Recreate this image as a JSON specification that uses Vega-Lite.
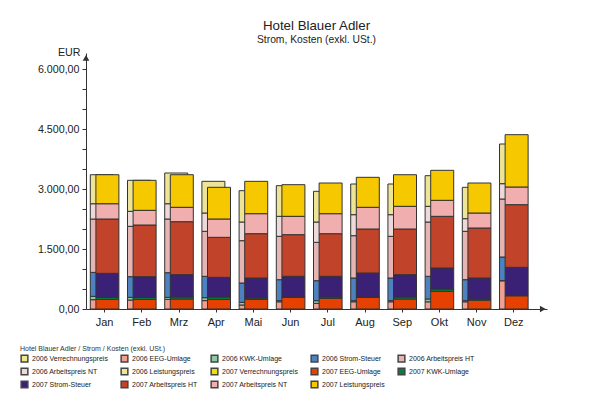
{
  "$schema": "https://vega.github.io/schema/vega-lite/v6.json",
  "autosize": {"type": "none"},
  "width": 461,
  "height": 256,
  "padding": {"left": 86, "top": 53, "right": 59, "bottom": 94},
  "background": "white",
  "title": {
    "text": "Hotel Blauer Adler",
    "subtitle": "Strom, Kosten (exkl. USt.)",
    "anchor": "middle",
    "fontSize": 13.3,
    "fontWeight": "normal",
    "color": "#222",
    "subtitleFontSize": 10.3,
    "subtitleColor": "#222",
    "subtitlePadding": 2,
    "offset": 1
  },
  "datasets": {
    "kosten": [
      {"m":"Jan","j":2006,"s":"2006 Verrechnungspreis","o":1,"w":0},
      {"m":"Jan","j":2006,"s":"2006 EEG-Umlage","o":2,"w":233},
      {"m":"Jan","j":2006,"s":"2006 KWK-Umlage","o":3,"w":83},
      {"m":"Jan","j":2006,"s":"2006 Strom-Steuer","o":4,"w":600},
      {"m":"Jan","j":2006,"s":"2006 Arbeitspreis HT","o":5,"w":1333},
      {"m":"Jan","j":2006,"s":"2006 Arbeitspreis NT","o":6,"w":383},
      {"m":"Jan","j":2006,"s":"2006 Leistungspreis","o":7,"w":725},
      {"m":"Feb","j":2006,"s":"2006 Verrechnungspreis","o":1,"w":0},
      {"m":"Feb","j":2006,"s":"2006 EEG-Umlage","o":2,"w":225},
      {"m":"Feb","j":2006,"s":"2006 KWK-Umlage","o":3,"w":66},
      {"m":"Feb","j":2006,"s":"2006 Strom-Steuer","o":4,"w":517},
      {"m":"Feb","j":2006,"s":"2006 Arbeitspreis HT","o":5,"w":1259},
      {"m":"Feb","j":2006,"s":"2006 Arbeitspreis NT","o":6,"w":375},
      {"m":"Feb","j":2006,"s":"2006 Leistungspreis","o":7,"w":775},
      {"m":"Mrz","j":2006,"s":"2006 Verrechnungspreis","o":1,"w":0},
      {"m":"Mrz","j":2006,"s":"2006 EEG-Umlage","o":2,"w":241},
      {"m":"Mrz","j":2006,"s":"2006 KWK-Umlage","o":3,"w":50},
      {"m":"Mrz","j":2006,"s":"2006 Strom-Steuer","o":4,"w":617},
      {"m":"Mrz","j":2006,"s":"2006 Arbeitspreis HT","o":5,"w":1342},
      {"m":"Mrz","j":2006,"s":"2006 Arbeitspreis NT","o":6,"w":382},
      {"m":"Mrz","j":2006,"s":"2006 Leistungspreis","o":7,"w":768},
      {"m":"Apr","j":2006,"s":"2006 Verrechnungspreis","o":1,"w":0},
      {"m":"Apr","j":2006,"s":"2006 EEG-Umlage","o":2,"w":209},
      {"m":"Apr","j":2006,"s":"2006 KWK-Umlage","o":3,"w":74},
      {"m":"Apr","j":2006,"s":"2006 Strom-Steuer","o":4,"w":534},
      {"m":"Apr","j":2006,"s":"2006 Arbeitspreis HT","o":5,"w":1125},
      {"m":"Apr","j":2006,"s":"2006 Arbeitspreis NT","o":6,"w":458},
      {"m":"Apr","j":2006,"s":"2006 Leistungspreis","o":7,"w":792},
      {"m":"Mai","j":2006,"s":"2006 Verrechnungspreis","o":1,"w":0},
      {"m":"Mai","j":2006,"s":"2006 EEG-Umlage","o":2,"w":100},
      {"m":"Mai","j":2006,"s":"2006 KWK-Umlage","o":3,"w":65},
      {"m":"Mai","j":2006,"s":"2006 Strom-Steuer","o":4,"w":485},
      {"m":"Mai","j":2006,"s":"2006 Arbeitspreis HT","o":5,"w":1058},
      {"m":"Mai","j":2006,"s":"2006 Arbeitspreis NT","o":6,"w":467},
      {"m":"Mai","j":2006,"s":"2006 Leistungspreis","o":7,"w":783},
      {"m":"Jun","j":2006,"s":"2006 Verrechnungspreis","o":1,"w":0},
      {"m":"Jun","j":2006,"s":"2006 EEG-Umlage","o":2,"w":180},
      {"m":"Jun","j":2006,"s":"2006 KWK-Umlage","o":3,"w":28},
      {"m":"Jun","j":2006,"s":"2006 Strom-Steuer","o":4,"w":525},
      {"m":"Jun","j":2006,"s":"2006 Arbeitspreis HT","o":5,"w":1084},
      {"m":"Jun","j":2006,"s":"2006 Arbeitspreis NT","o":6,"w":500},
      {"m":"Jun","j":2006,"s":"2006 Leistungspreis","o":7,"w":766},
      {"m":"Jul","j":2006,"s":"2006 Verrechnungspreis","o":1,"w":0},
      {"m":"Jul","j":2006,"s":"2006 EEG-Umlage","o":2,"w":140},
      {"m":"Jul","j":2006,"s":"2006 KWK-Umlage","o":3,"w":68},
      {"m":"Jul","j":2006,"s":"2006 Strom-Steuer","o":4,"w":500},
      {"m":"Jul","j":2006,"s":"2006 Arbeitspreis HT","o":5,"w":959},
      {"m":"Jul","j":2006,"s":"2006 Arbeitspreis NT","o":6,"w":508},
      {"m":"Jul","j":2006,"s":"2006 Leistungspreis","o":7,"w":767},
      {"m":"Aug","j":2006,"s":"2006 Verrechnungspreis","o":1,"w":0},
      {"m":"Aug","j":2006,"s":"2006 EEG-Umlage","o":2,"w":180},
      {"m":"Aug","j":2006,"s":"2006 KWK-Umlage","o":3,"w":28},
      {"m":"Aug","j":2006,"s":"2006 Strom-Steuer","o":4,"w":567},
      {"m":"Aug","j":2006,"s":"2006 Arbeitspreis HT","o":5,"w":1058},
      {"m":"Aug","j":2006,"s":"2006 Arbeitspreis NT","o":6,"w":525},
      {"m":"Aug","j":2006,"s":"2006 Leistungspreis","o":7,"w":767},
      {"m":"Sep","j":2006,"s":"2006 Verrechnungspreis","o":1,"w":0},
      {"m":"Sep","j":2006,"s":"2006 EEG-Umlage","o":2,"w":180},
      {"m":"Sep","j":2006,"s":"2006 KWK-Umlage","o":3,"w":28},
      {"m":"Sep","j":2006,"s":"2006 Strom-Steuer","o":4,"w":567},
      {"m":"Sep","j":2006,"s":"2006 Arbeitspreis HT","o":5,"w":1042},
      {"m":"Sep","j":2006,"s":"2006 Arbeitspreis NT","o":6,"w":541},
      {"m":"Sep","j":2006,"s":"2006 Leistungspreis","o":7,"w":767},
      {"m":"Okt","j":2006,"s":"2006 Verrechnungspreis","o":1,"w":0},
      {"m":"Okt","j":2006,"s":"2006 EEG-Umlage","o":2,"w":180},
      {"m":"Okt","j":2006,"s":"2006 KWK-Umlage","o":3,"w":70},
      {"m":"Okt","j":2006,"s":"2006 Strom-Steuer","o":4,"w":567},
      {"m":"Okt","j":2006,"s":"2006 Arbeitspreis HT","o":5,"w":1358},
      {"m":"Okt","j":2006,"s":"2006 Arbeitspreis NT","o":6,"w":392},
      {"m":"Okt","j":2006,"s":"2006 Leistungspreis","o":7,"w":766},
      {"m":"Nov","j":2006,"s":"2006 Verrechnungspreis","o":1,"w":0},
      {"m":"Nov","j":2006,"s":"2006 EEG-Umlage","o":2,"w":180},
      {"m":"Nov","j":2006,"s":"2006 KWK-Umlage","o":3,"w":28},
      {"m":"Nov","j":2006,"s":"2006 Strom-Steuer","o":4,"w":525},
      {"m":"Nov","j":2006,"s":"2006 Arbeitspreis HT","o":5,"w":1209},
      {"m":"Nov","j":2006,"s":"2006 Arbeitspreis NT","o":6,"w":316},
      {"m":"Nov","j":2006,"s":"2006 Leistungspreis","o":7,"w":784},
      {"m":"Dez","j":2006,"s":"2006 Verrechnungspreis","o":1,"w":0},
      {"m":"Dez","j":2006,"s":"2006 EEG-Umlage","o":2,"w":708},
      {"m":"Dez","j":2006,"s":"2006 KWK-Umlage","o":3,"w":0},
      {"m":"Dez","j":2006,"s":"2006 Strom-Steuer","o":4,"w":592},
      {"m":"Dez","j":2006,"s":"2006 Arbeitspreis HT","o":5,"w":1450},
      {"m":"Dez","j":2006,"s":"2006 Arbeitspreis NT","o":6,"w":383},
      {"m":"Dez","j":2006,"s":"2006 Leistungspreis","o":7,"w":992},
      {"m":"Jan","j":2007,"s":"2007 Verrechnungspreis","o":1,"w":0},
      {"m":"Jan","j":2007,"s":"2007 EEG-Umlage","o":2,"w":241},
      {"m":"Jan","j":2007,"s":"2007 KWK-Umlage","o":3,"w":50},
      {"m":"Jan","j":2007,"s":"2007 Strom-Steuer","o":4,"w":600},
      {"m":"Jan","j":2007,"s":"2007 Arbeitspreis HT","o":5,"w":1359},
      {"m":"Jan","j":2007,"s":"2007 Arbeitspreis NT","o":6,"w":382},
      {"m":"Jan","j":2007,"s":"2007 Leistungspreis","o":7,"w":725},
      {"m":"Feb","j":2007,"s":"2007 Verrechnungspreis","o":1,"w":0},
      {"m":"Feb","j":2007,"s":"2007 EEG-Umlage","o":2,"w":241},
      {"m":"Feb","j":2007,"s":"2007 KWK-Umlage","o":3,"w":50},
      {"m":"Feb","j":2007,"s":"2007 Strom-Steuer","o":4,"w":517},
      {"m":"Feb","j":2007,"s":"2007 Arbeitspreis HT","o":5,"w":1292},
      {"m":"Feb","j":2007,"s":"2007 Arbeitspreis NT","o":6,"w":367},
      {"m":"Feb","j":2007,"s":"2007 Leistungspreis","o":7,"w":750},
      {"m":"Mrz","j":2007,"s":"2007 Verrechnungspreis","o":1,"w":0},
      {"m":"Mrz","j":2007,"s":"2007 EEG-Umlage","o":2,"w":250},
      {"m":"Mrz","j":2007,"s":"2007 KWK-Umlage","o":3,"w":50},
      {"m":"Mrz","j":2007,"s":"2007 Strom-Steuer","o":4,"w":558},
      {"m":"Mrz","j":2007,"s":"2007 Arbeitspreis HT","o":5,"w":1325},
      {"m":"Mrz","j":2007,"s":"2007 Arbeitspreis NT","o":6,"w":359},
      {"m":"Mrz","j":2007,"s":"2007 Leistungspreis","o":7,"w":815},
      {"m":"Apr","j":2007,"s":"2007 Verrechnungspreis","o":1,"w":0},
      {"m":"Apr","j":2007,"s":"2007 EEG-Umlage","o":2,"w":241},
      {"m":"Apr","j":2007,"s":"2007 KWK-Umlage","o":3,"w":59},
      {"m":"Apr","j":2007,"s":"2007 Strom-Steuer","o":4,"w":492},
      {"m":"Apr","j":2007,"s":"2007 Arbeitspreis HT","o":5,"w":1000},
      {"m":"Apr","j":2007,"s":"2007 Arbeitspreis NT","o":6,"w":458},
      {"m":"Apr","j":2007,"s":"2007 Leistungspreis","o":7,"w":792},
      {"m":"Mai","j":2007,"s":"2007 Verrechnungspreis","o":1,"w":0},
      {"m":"Mai","j":2007,"s":"2007 EEG-Umlage","o":2,"w":241},
      {"m":"Mai","j":2007,"s":"2007 KWK-Umlage","o":3,"w":34},
      {"m":"Mai","j":2007,"s":"2007 Strom-Steuer","o":4,"w":500},
      {"m":"Mai","j":2007,"s":"2007 Arbeitspreis HT","o":5,"w":1108},
      {"m":"Mai","j":2007,"s":"2007 Arbeitspreis NT","o":6,"w":500},
      {"m":"Mai","j":2007,"s":"2007 Leistungspreis","o":7,"w":809},
      {"m":"Jun","j":2007,"s":"2007 Verrechnungspreis","o":1,"w":0},
      {"m":"Jun","j":2007,"s":"2007 EEG-Umlage","o":2,"w":290},
      {"m":"Jun","j":2007,"s":"2007 KWK-Umlage","o":3,"w":10},
      {"m":"Jun","j":2007,"s":"2007 Strom-Steuer","o":4,"w":517},
      {"m":"Jun","j":2007,"s":"2007 Arbeitspreis HT","o":5,"w":1041},
      {"m":"Jun","j":2007,"s":"2007 Arbeitspreis NT","o":6,"w":459},
      {"m":"Jun","j":2007,"s":"2007 Leistungspreis","o":7,"w":791},
      {"m":"Jul","j":2007,"s":"2007 Verrechnungspreis","o":1,"w":0},
      {"m":"Jul","j":2007,"s":"2007 EEG-Umlage","o":2,"w":267},
      {"m":"Jul","j":2007,"s":"2007 KWK-Umlage","o":3,"w":33},
      {"m":"Jul","j":2007,"s":"2007 Strom-Steuer","o":4,"w":517},
      {"m":"Jul","j":2007,"s":"2007 Arbeitspreis HT","o":5,"w":1066},
      {"m":"Jul","j":2007,"s":"2007 Arbeitspreis NT","o":6,"w":500},
      {"m":"Jul","j":2007,"s":"2007 Leistungspreis","o":7,"w":767},
      {"m":"Aug","j":2007,"s":"2007 Verrechnungspreis","o":1,"w":0},
      {"m":"Aug","j":2007,"s":"2007 EEG-Umlage","o":2,"w":290},
      {"m":"Aug","j":2007,"s":"2007 KWK-Umlage","o":3,"w":10},
      {"m":"Aug","j":2007,"s":"2007 Strom-Steuer","o":4,"w":600},
      {"m":"Aug","j":2007,"s":"2007 Arbeitspreis HT","o":5,"w":1100},
      {"m":"Aug","j":2007,"s":"2007 Arbeitspreis NT","o":6,"w":542},
      {"m":"Aug","j":2007,"s":"2007 Leistungspreis","o":7,"w":750},
      {"m":"Sep","j":2007,"s":"2007 Verrechnungspreis","o":1,"w":0},
      {"m":"Sep","j":2007,"s":"2007 EEG-Umlage","o":2,"w":250},
      {"m":"Sep","j":2007,"s":"2007 KWK-Umlage","o":3,"w":50},
      {"m":"Sep","j":2007,"s":"2007 Strom-Steuer","o":4,"w":558},
      {"m":"Sep","j":2007,"s":"2007 Arbeitspreis HT","o":5,"w":1142},
      {"m":"Sep","j":2007,"s":"2007 Arbeitspreis NT","o":6,"w":567},
      {"m":"Sep","j":2007,"s":"2007 Leistungspreis","o":7,"w":790},
      {"m":"Okt","j":2007,"s":"2007 Verrechnungspreis","o":1,"w":0},
      {"m":"Okt","j":2007,"s":"2007 EEG-Umlage","o":2,"w":442},
      {"m":"Okt","j":2007,"s":"2007 KWK-Umlage","o":3,"w":58},
      {"m":"Okt","j":2007,"s":"2007 Strom-Steuer","o":4,"w":525},
      {"m":"Okt","j":2007,"s":"2007 Arbeitspreis HT","o":5,"w":1292},
      {"m":"Okt","j":2007,"s":"2007 Arbeitspreis NT","o":6,"w":400},
      {"m":"Okt","j":2007,"s":"2007 Leistungspreis","o":7,"w":750},
      {"m":"Nov","j":2007,"s":"2007 Verrechnungspreis","o":1,"w":0},
      {"m":"Nov","j":2007,"s":"2007 EEG-Umlage","o":2,"w":220},
      {"m":"Nov","j":2007,"s":"2007 KWK-Umlage","o":3,"w":30},
      {"m":"Nov","j":2007,"s":"2007 Strom-Steuer","o":4,"w":525},
      {"m":"Nov","j":2007,"s":"2007 Arbeitspreis HT","o":5,"w":1250},
      {"m":"Nov","j":2007,"s":"2007 Arbeitspreis NT","o":6,"w":375},
      {"m":"Nov","j":2007,"s":"2007 Leistungspreis","o":7,"w":750},
      {"m":"Dez","j":2007,"s":"2007 Verrechnungspreis","o":1,"w":0},
      {"m":"Dez","j":2007,"s":"2007 EEG-Umlage","o":2,"w":330},
      {"m":"Dez","j":2007,"s":"2007 KWK-Umlage","o":3,"w":12},
      {"m":"Dez","j":2007,"s":"2007 Strom-Steuer","o":4,"w":700},
      {"m":"Dez","j":2007,"s":"2007 Arbeitspreis HT","o":5,"w":1566},
      {"m":"Dez","j":2007,"s":"2007 Arbeitspreis NT","o":6,"w":442},
      {"m":"Dez","j":2007,"s":"2007 Leistungspreis","o":7,"w":1308}
    ],
    "pfeile": [
      {"m": "Jan", "w": 6280, "p": "y"},
      {"m": "Dez", "w": 0, "p": "x"}
    ]
  },
  "data": {"name": "kosten"},
  "encoding": {
    "x": {
      "field": "m",
      "type": "ordinal",
      "scale": {"domain": ["Jan","Feb","Mrz","Apr","Mai","Jun","Jul","Aug","Sep","Okt","Nov","Dez"], "paddingInner": 0, "paddingOuter": 0.196, "align": 0},
      "axis": {"title": null, "labelAngle": 0, "labelFontSize": 11, "tickSize": 3, "labelPadding": 4, "domainWidth": 1, "labelOverlap": false}
    },
    "y": {
      "field": "w",
      "type": "quantitative",
      "scale": {"domain": [0, 6400], "nice": false},
      "axis": {
        "title": "EUR",
        "titleAngle": 0,
        "titleAlign": "right",
        "titleBaseline": "middle",
        "titleX": -6,
        "titleY": -1,
        "titleFontSize": 10.7,
        "titleFontWeight": "normal",
        "titleColor": "#222",
        "values": [0,500,1000,1500,2000,2500,3000,3500,4000,4500,5000,5500,6000],
        "format": ",.2f",
        "labelExpr": "datum.value % 1500 === 0 ? datum.label : ''",
        "labelOverlap": false,
        "labelFontSize": 10.7,
        "tickSize": 4,
        "labelPadding": 3,
        "domainWidth": 1
      }
    }
  },
  "layer": [
    {
      "encoding": {
        "y": {"field": "w", "type": "quantitative", "stack": "zero"},
        "color": {
          "field": "s",
          "type": "nominal",
          "scale": {
            "domain": ["2006 Verrechnungspreis","2006 EEG-Umlage","2006 KWK-Umlage","2006 Strom-Steuer","2006 Arbeitspreis HT","2006 Arbeitspreis NT","2006 Leistungspreis","2007 Verrechnungspreis","2007 EEG-Umlage","2007 KWK-Umlage","2007 Strom-Steuer","2007 Arbeitspreis HT","2007 Arbeitspreis NT","2007 Leistungspreis"],
            "range": ["#EEE88E","#F19F91","#8EC9A1","#4E81BF","#E7B4B4","#EDD9D9","#EDE595","#EEE000","#E64100","#008040","#3A2176","#C1432A","#F0AEAE","#F6C800"]
          },
          "legend": {
            "orient": "none",
            "legendX": -66,
            "legendY": 292,
            "direction": "horizontal",
            "columns": 5,
            "gridAlign": "each",
            "title": "Hotel Blauer Adler / Strom / Kosten (exkl. USt.)",
            "titleFontSize": 7,
            "titleFontWeight": "normal",
            "titleColor": "#333",
            "titlePadding": 2,
            "labelFontSize": 7,
            "labelColor": "#222",
            "symbolType": "square",
            "symbolSize": 45,
            "symbolStrokeColor": "#444",
            "symbolStrokeWidth": 1.5,
            "labelOffset": 3,
            "columnPadding": 10,
            "rowPadding": 0
          }
        },
        "order": {"field": "o", "type": "quantitative", "sort": "ascending"}
      },
      "layer": [
        {
          "transform": [{"filter": "datum.j === 2006"}],
          "mark": {"type": "bar", "width": 23, "xOffset": -2.8, "stroke": "#333", "strokeWidth": 1}
        },
        {
          "transform": [{"filter": "datum.j === 2007"}],
          "mark": {"type": "bar", "width": 23, "xOffset": 2.8, "stroke": "#333", "strokeWidth": 1}
        }
      ]
    },
    {
      "data": {"name": "pfeile"},
      "transform": [{"filter": "datum.p === 'y'"}],
      "mark": {"type": "point", "shape": "triangle-up", "filled": true, "size": 45, "opacity": 1, "color": "#333", "xOffset": -18.6}
    },
    {
      "data": {"name": "pfeile"},
      "transform": [{"filter": "datum.p === 'x'"}],
      "mark": {"type": "point", "shape": "triangle-right", "filled": true, "size": 45, "opacity": 1, "color": "#333", "xOffset": 29}
    }
  ],
  "config": {
    "font": "Liberation Sans",
    "view": {"stroke": null},
    "locale": {"number": {"decimal": ",", "thousands": ".", "grouping": [3], "currency": ["", " €"]}},
    "axis": {"domainColor": "#333", "tickColor": "#333", "labelColor": "#222", "grid": false}
  }
}
